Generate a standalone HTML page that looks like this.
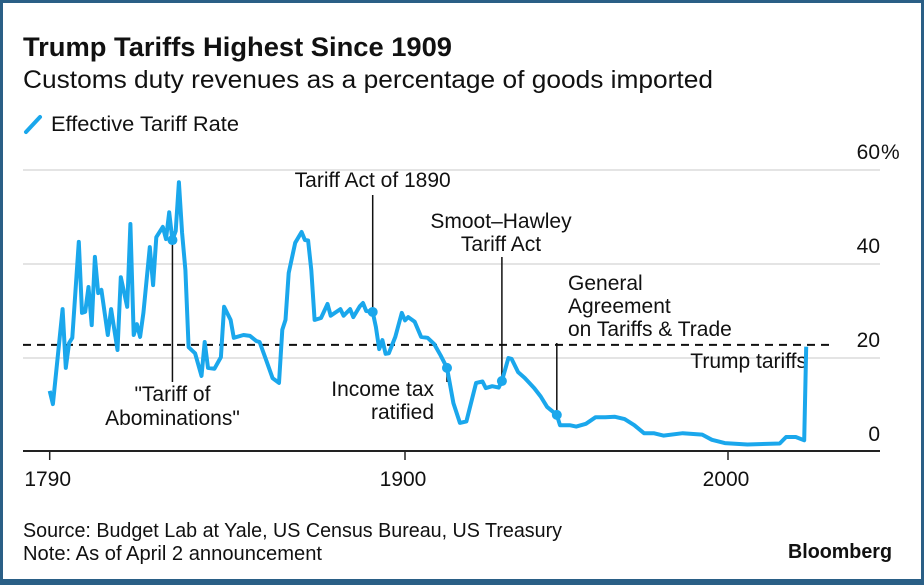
<!DOCTYPE html>
<html><head><meta charset="utf-8"><style>
html,body{margin:0;padding:0;background:#fff}
#wrap{position:relative;width:924px;height:585px;box-sizing:border-box;border:3px solid #2a5f86;border-bottom-width:6px;overflow:hidden;font-family:"Liberation Sans",sans-serif;color:#111}
svg text{font-family:"Liberation Sans",sans-serif;fill:#111}
</style></head><body>
<div id="wrap">
<svg id="chart" width="924" height="585" style="position:absolute;left:-3px;top:-3px">
<text x="23" y="56" font-size="27" font-weight="bold" textLength="429" lengthAdjust="spacingAndGlyphs">Trump Tariffs Highest Since 1909</text>
<text x="23" y="88" font-size="25" textLength="690" lengthAdjust="spacingAndGlyphs">Customs duty revenues as a percentage of goods imported</text>
<g>
<line x1="26" y1="132" x2="40" y2="117" stroke="#1aa7ec" stroke-width="4" stroke-linecap="round"/>
<text x="51" y="131" font-size="21" textLength="188" lengthAdjust="spacingAndGlyphs">Effective Tariff Rate</text>
</g>
<g id="grid"></g>
<g id="yticks"></g>
<line x1="23" x2="833" id="ref" stroke="#111" stroke-width="2" stroke-dasharray="8,6"/>
<g id="annot"></g>
<path id="series" fill="none" stroke="#1aa7ec" stroke-width="4" stroke-linejoin="round"/>
<g id="markers"></g>
<line x1="23" x2="880" y1="451" y2="451" stroke="#222" stroke-width="2"/>
<g id="xticks"></g>
<text x="23" y="537" font-size="20" textLength="539" lengthAdjust="spacingAndGlyphs">Source: Budget Lab at Yale, US Census Bureau, US Treasury</text>
<text x="23" y="560" font-size="20" textLength="299" lengthAdjust="spacingAndGlyphs">Note: As of April 2 announcement</text>
<text x="788" y="558" font-size="20" font-weight="bold" textLength="104" lengthAdjust="spacingAndGlyphs">Bloomberg</text>
</svg>
</div>
<script>
const years=[1790,1791,1794,1795,1796,1797,1799,1800,1801,1802,1803,1804,1805,1806,1808,1809,1811,1812,1814,1815,1816,1817,1818,1819,1821,1822,1823,1825,1826,1827,1828,1829,1830,1831,1832,1833,1835,1837,1838,1839,1841,1843,1844,1846,1847,1850,1852,1854,1855,1857,1859,1861,1862,1863,1864,1866,1868,1869,1870,1871,1872,1874,1876,1877,1880,1881,1883,1884,1886,1887,1888,1890,1891,1892,1893,1894,1895,1897,1899,1900,1901,1903,1905,1907,1909,1911,1913,1915,1917,1919,1922,1924,1925,1927,1929,1930,1932,1933,1935,1937,1940,1942,1944,1947,1948,1951,1953,1956,1959,1962,1965,1968,1971,1974,1977,1980,1986,1992,1995,1999,2006,2016,2018,2021,2023.6,2024.2];
const rates=[13.0,10.2,30.4,17.9,23.2,24.3,44.7,29.6,29.8,35.1,27,41.5,33.8,34.5,24.9,30.4,21.7,37.2,30.9,48.5,24.9,27.2,24.5,29.6,43.6,35.5,45.7,47.9,45.3,51,45.1,47,57.4,46.6,38.7,22.3,21,16.2,23.4,17.9,17.7,20.2,30.9,28.1,24.3,24.9,24.7,23.6,23.4,19.6,15.7,14.7,26,28.1,38.1,44.5,46.8,45.1,45,38.7,28.1,28.5,31.5,29,30.4,29,30.4,28.7,31,31.7,30,29.8,26.6,21.9,23.8,20.9,21,24.5,29.6,28,28.7,27.7,24.5,24.3,23,20.6,17.9,10.4,6.2,6.5,14.7,15,13.6,14,13.7,15.1,20,19.8,17,15.8,13.6,11.8,9.6,7.9,5.7,5.7,5.4,6,7.4,7.4,7.5,7,5.7,4,4,3.5,4,3.7,2.6,1.9,1.6,1.8,3.2,3.2,2.5,22.4];
const yTicks=[0,20,40,60];
const yTickLabels=["0","20","40","60"];
const xTicks=[1790,1900,2000];
const xTickLabels=["1790","1900","2000"];
const trumpRate=22.8;
const eventYears=[1828,1890,1913,1930,1947];
const eventRates=[45.1,29.8,17.9,15.1,7.9];

const X=y=>49.7+(y-1790)*3.23;
const Y=v=>452-v*4.7;
const NS="http://www.w3.org/2000/svg";
function mk(tag,parent,attrs){const e=document.createElementNS(NS,tag);for(const k in attrs)e.setAttribute(k,attrs[k]);parent.appendChild(e);return e;}

const grid=document.getElementById('grid'),yt=document.getElementById('yticks');
yTicks.forEach((t,i)=>{
  if(t>0){const l=mk('line',grid,{x1:23,x2:880,y1:Y(t),y2:Y(t),stroke:'#dcdcdc','stroke-width':1.5});
  
  }
  const tx=mk('text',yt,{x:880,y:Y(t)-11,'font-size':21,'text-anchor':'end'});tx.textContent=yTickLabels[i];
  
  
  if(i===yTicks.length-1){const p=mk('text',yt,{x:881,y:Y(t)-11,'font-size':21});p.textContent='%';
    
    }
});
const ref=document.getElementById('ref');ref.setAttribute('y1',Y(trumpRate));ref.setAttribute('y2',Y(trumpRate));
const xt=document.getElementById('xticks');
xTicks.forEach((t,i)=>{
  const l=mk('line',xt,{x1:X(t),x2:X(t),y1:451,y2:460,stroke:'#222','stroke-width':1.5});
  
  
  const tx=mk('text',xt,{x:X(t)-2,y:486,'font-size':21,'text-anchor':'middle'});tx.textContent=xTickLabels[i];
  
  
});
document.getElementById('series').setAttribute('d',years.map((y,i)=>(i?'L':'M')+X(y).toFixed(1)+','+Y(rates[i]).toFixed(1)).join(''));
const mg=document.getElementById('markers');
eventYears.forEach((y,i)=>{const c=mk('circle',mg,{cx:X(y),cy:Y(eventRates[i]),r:5,fill:'#1aa7ec'});
  
  });
const an=document.getElementById('annot');
function lineTo(x,y1,y2){const l=mk('line',an,{x1:x,x2:x,y1:y1,y2:y2,stroke:'#111','stroke-width':1.5});
  
  }
function txt(s,x,y,anchor){const t=mk('text',an,{x:x,y:y,'font-size':21,'text-anchor':anchor});t.textContent=s;
  
  }
lineTo(X(1828),Y(45.1),382);txt('"Tariff of',X(1828),401,'middle');txt('Abominations"',X(1828),425,'middle');
lineTo(X(1890),195,Y(29.8));txt('Tariff Act of 1890',X(1890),187,'middle');
lineTo(X(1913),Y(17.9),382);txt('Income tax',434,396,'end');txt('ratified',434,419,'end');
lineTo(X(1930),257,Y(15.1));txt('Smoot\u2013Hawley',501,228,'middle');txt('Tariff Act',501,251,'middle');
lineTo(X(1947),343,Y(7.9));txt('General',568,290,'start');txt('Agreement',568,313,'start');txt('on Tariffs & Trade',568,336,'start');
txt('Trump tariffs',807,368,'end');
</script>
</body></html>
